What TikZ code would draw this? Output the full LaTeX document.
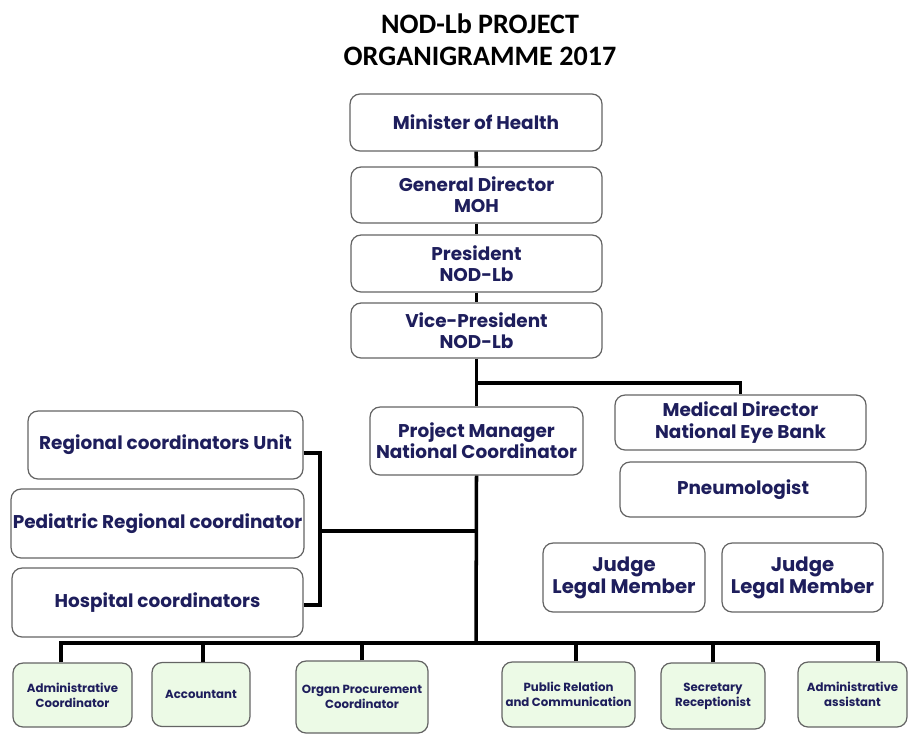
\documentclass[tikz,border=0pt]{standalone}
\usepackage{fontspec}
\setmainfont{Poppins}
\newfontfamily\titlefont{Carlito}
\usepackage{tikz}
\usetikzlibrary{positioning}

\definecolor{navy}{RGB}{30,30,92}
\definecolor{boxline}{RGB}{100,100,100}
\definecolor{paleg}{RGB}{236,250,230}

\tikzset{
	post/.style={draw=boxline, line width=0.7pt, rounded corners=0.2cm, fill=white,
		text=navy, align=center, inner sep=1pt, font=\bfseries\fontsize{10.5}{12}\selectfont},
	staff/.style={post, fill=paleg, font=\bfseries\fontsize{6.7}{8.5}\selectfont},
	link/.style={line width=2pt, black}
}

\begin{document}
\begin{tikzpicture}[x=0.02cm, y=-0.02cm]
		\useasboundingbox (0,0) rectangle (911,735);

		% Title
		\node (title) at (480, 40) [font=\titlefont\bfseries\fontsize{16}{18.2}\selectfont, align=center]
			{NOD-Lb PROJECT\\ORGANIGRAMME 2017};

		% Board
		\node (minister) at (476, 122.5) [post, minimum width=5.04cm, minimum height=1.14cm] {Minister of Health};
		\node (gendir) at (476.5, 195) [post, minimum width=5.02cm, minimum height=1.12cm] {General Director\\MOH};
		\node (pres) at (476.5, 263.5) [post, minimum width=5.02cm, minimum height=1.14cm] {President\\NOD-Lb};
		\node (vicepres) at (476.5, 330.5) [post, minimum width=5.02cm, minimum height=1.10cm] {Vice-President\\NOD-Lb};

		% Project level
		\node (projman) at (476.5, 441) [post, minimum width=4.26cm, minimum height=1.36cm] {Project Manager\\National Coordinator};
		\node (meddir) at (740.5, 422.5) [post, minimum width=5.02cm, minimum height=1.10cm] {Medical Director\\National Eye Bank};
		\node (pneumo) at (743, 489.5) [post, minimum width=4.92cm, minimum height=1.10cm] {Pneumologist};
		\node (judgeA) at (624, 577.5) [post, minimum width=3.24cm, minimum height=1.38cm,
			font=\bfseries\fontsize{11.2}{12.5}\selectfont] {Judge\\Legal Member};
		\node (judgeB) at (802.5, 577.5) [post, minimum width=3.22cm, minimum height=1.38cm,
			font=\bfseries\fontsize{11.2}{12.5}\selectfont] {Judge\\Legal Member};

		% Coordinators
		\node (regunit) at (165.5, 445) [post, minimum width=5.50cm, minimum height=1.36cm] {Regional coordinators Unit};
		\node (pedreg) at (157.5, 523.5) [post, minimum width=5.82cm, minimum height=1.38cm] {Pediatric Regional coordinator};
		\node (hospco) at (157.5, 602.5) [post, minimum width=5.82cm, minimum height=1.38cm] {Hospital coordinators};

		% Staff
		\node (admco) at (72.5, 695) [staff, minimum width=2.38cm, minimum height=1.28cm] {Administrative\\Coordinator};
		\node (acct) at (201, 694.5) [staff, minimum width=1.96cm, minimum height=1.28cm] {Accountant};
		\node (organ) at (362, 697) [staff, minimum width=2.64cm, minimum height=1.44cm] {Organ Procurement\\Coordinator};
		\node (pubrel) at (568.5, 694.5) [staff, minimum width=2.66cm, minimum height=1.30cm] {Public Relation\\and Communication};
		\node (secr) at (713, 696) [staff, minimum width=2.08cm, minimum height=1.32cm] {Secretary\\Receptionist};
		\node (admass) at (852.5, 694.5) [staff, minimum width=2.18cm, minimum height=1.30cm] {Administrative\\assistant};

		% Links
		\coordinate (split) at (476, 383);
		\coordinate (hub) at (476, 643);
		\coordinate (bra) at (320, 531);

		\draw [link] (minister) -- (gendir);
		\draw [link] (gendir) -- (pres);
		\draw [link] (pres) -- (vicepres);
		\draw [link] (vicepres) -- (projman);
		\draw [link] (split) -| (meddir.north);
		\draw [link] (projman.south) -- (hub);

		\draw [link] ([yshift=-0.16cm]regunit.east) -| (bra) |- ([yshift=-0.05cm]hospco.east);
		\draw [link] (bra) -- (bra -| projman.south);

		\draw [link] ([xshift=-0.23cm]admco.north) |- ([xshift=0.51cm]admass.north |- hub)
			-- ([xshift=0.51cm]admass.north);
		\foreach \n/\dx in {acct/0.04, organ/0, pubrel/0.15, secr/0}
			\draw [link] ([xshift=\dx cm]\n.north) -- ([xshift=\dx cm]\n.north |- hub);
	\end{tikzpicture}
\end{document}
